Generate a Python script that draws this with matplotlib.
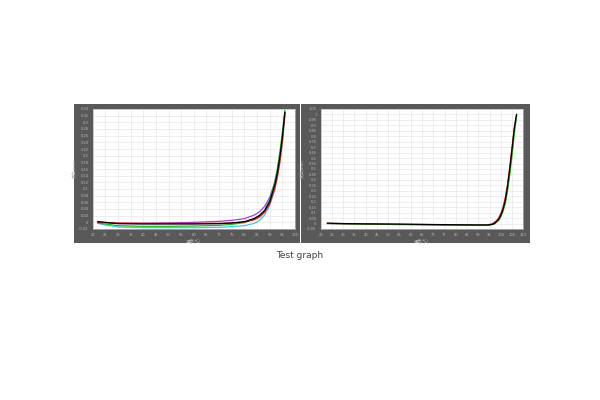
import matplotlib
matplotlib.use("Agg")
import matplotlib.pyplot as plt
from matplotlib.patches import Rectangle
import numpy as np

# left panel data (temperature vs displacement)
left_x = [22, 25, 30, 40, 50, 60, 70, 75, 80, 84, 86, 88, 90, 92, 93, 94, 95, 96]
left_black = [0.002, 0.0, -0.004, -0.005, -0.005, -0.005, -0.004, -0.002, 0.002, 0.012, 0.021, 0.035, 0.062, 0.112, 0.148, 0.195, 0.255, 0.33]
left_red = [0.001, -0.001, -0.002, -0.003, -0.003, -0.003, -0.003, -0.002, 0.001, 0.008, 0.016, 0.030, 0.055, 0.100, 0.135, 0.180, 0.240, 0.325]
left_green = [-0.002, -0.005, -0.010, -0.012, -0.012, -0.011, -0.009, -0.006, -0.001, 0.010, 0.020, 0.037, 0.068, 0.120, 0.160, 0.210, 0.270, 0.335]
left_purple = [0.0, -0.001, -0.003, -0.003, -0.002, 0.0, 0.003, 0.006, 0.011, 0.022, 0.032, 0.048, 0.075, 0.120, 0.155, 0.200, 0.255, 0.33]
left_cyan = [-0.003, -0.008, -0.014, -0.016, -0.016, -0.016, -0.015, -0.013, -0.010, -0.003, 0.006, 0.022, 0.050, 0.100, 0.135, 0.180, 0.240, 0.32]

# right panel data
right_x = [23, 30, 40, 50, 60, 70, 80, 90, 94, 96, 97, 98, 99, 100, 101, 102, 103, 104, 105, 106, 107]
right_black = [0.003, 0.0, -0.003, -0.005, -0.007, -0.009, -0.011, -0.013, -0.013, -0.008, -0.002, 0.016, 0.035, 0.075, 0.130, 0.210, 0.340, 0.500, 0.680, 0.870, 1.00]
right_red = [0.002, -0.001, -0.004, -0.006, -0.008, -0.010, -0.012, -0.013, -0.012, -0.004, 0.010, 0.025, 0.050, 0.090, 0.150, 0.240, 0.360, 0.520, 0.700, 0.880, 0.99]
right_green = [0.001, -0.002, -0.004, -0.006, -0.008, -0.010, -0.012, -0.014, -0.014, -0.010, -0.004, 0.010, 0.028, 0.062, 0.110, 0.185, 0.300, 0.450, 0.620, 0.820, 0.98]
right_purple = [0.0, -0.003, -0.006, -0.008, -0.010, -0.012, -0.015, -0.017, -0.017, -0.010, -0.003, 0.013, 0.032, 0.070, 0.125, 0.200, 0.320, 0.480, 0.660, 0.850, 0.99]

ylabel = "変位(mm)"
xlabel = "温度(℃)"
caption = "Test graph"

cjk = ['Noto Sans CJK JP', 'DejaVu Sans']
bg = '#595959'
tick_col = '#b8b8b8'

fig = plt.figure(figsize=(6, 4), dpi=100)
fig.patch.set_facecolor('white')

# dark frames behind the two charts
for x0, x1 in [(73.5, 299.5), (301.0, 529.5)]:
    fig.patches.append(Rectangle((x0 / 600, (400 - 243) / 400), (x1 - x0) / 600, 139.5 / 400,
                                 transform=fig.transFigure, facecolor=bg, edgecolor='none', zorder=-10))


def style(ax, xlim, xstep, ylim, ystep):
    ax.set_facecolor('white')
    ax.set_xlim(*xlim)
    ax.set_ylim(*ylim)
    xt = np.arange(xlim[0], xlim[1] + 0.001, xstep)
    yt = np.round(np.arange(ylim[0], ylim[1] + ystep / 2, ystep), 4)
    ax.set_xticks(xt)
    ax.set_yticks(yt)
    ax.set_xticklabels(['%g' % v for v in xt])
    ax.set_yticklabels(['%g' % v for v in yt])
    ax.tick_params(length=0, labelsize=2.6, labelcolor=tick_col, pad=3)
    ax.grid(True, color='#e8e8e8', lw=0.5)
    ax.set_axisbelow(True)
    for s in ax.spines.values():
        s.set_color('#bdbdbd')
        s.set_linewidth(0.5)
    ax.set_xlabel(xlabel, family=cjk, fontsize=3, color=tick_col, labelpad=1)
    ax.set_ylabel(ylabel, family=cjk, fontsize=3, color=tick_col, labelpad=2)


ax1 = fig.add_axes([92.7 / 600, (400 - 229) / 400, 202.3 / 600, 120 / 400])
style(ax1, (20, 100), 5, (-0.02, 0.34), 0.02)
ax1.plot(left_x, left_cyan, color='#3fc8f0', lw=0.9)
ax1.plot(left_x, left_purple, color='#a040e8', lw=0.9)
ax1.plot(left_x, left_green, color='#22b822', lw=0.9)
ax1.plot(left_x, left_red, color='#e02020', lw=0.9)
ax1.plot(left_x, left_black, color='black', lw=0.9)

ax2 = fig.add_axes([320.7 / 600, (400 - 229) / 400, 202.6 / 600, 120 / 400])
style(ax2, (20, 110), 5, (-0.05, 1.05), 0.05)
ax2.plot(right_x, right_purple, color='#a040e8', lw=0.9)
ax2.plot(right_x, right_red, color='#e02020', lw=0.9)
ax2.plot(right_x, right_green, color='#22c822', lw=0.9)
ax2.plot(right_x, right_black, color='black', lw=0.9)

fig.text(0.5, (400 - 256) / 400, caption, ha='center', va='center', fontsize=6.5, color='#404040')

fig.savefig('out.png', dpi=100, facecolor='white')
